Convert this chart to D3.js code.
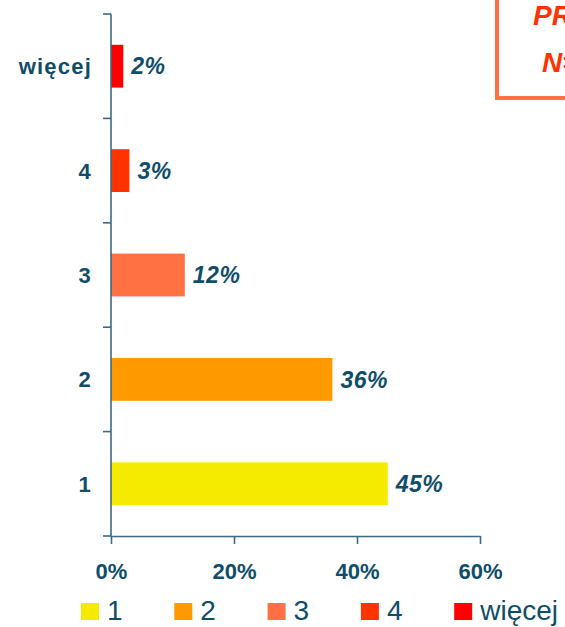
<!DOCTYPE html>
<html>
<head>
<meta charset="utf-8">
<script src="https://cdn.jsdelivr.net/npm/d3@7"></script>
<style>
  body { margin: 0; background: #fff; overflow: hidden; }
  svg { display: block; font-family: "Liberation Sans", Arial, sans-serif; }
</style>
</head>
<body>
<div id="chart"></div>
<script>
// categories top to bottom, as drawn
var categories = ['więcej', '4', '3', '2', '1'];
var values = [0.02, 0.03, 0.12, 0.36, 0.45];
var xTicks = [0, 0.2, 0.4, 0.6];
var legendItems = ['1', '2', '3', '4', 'więcej'];
var boxLines = ['PRÓBA', 'N='];

var width = 565,
    height = 627,
    plotLeft = 111,
    plotRight = 480,
    plotTop = 14,
    plotBottom = 536;

var textColor = '#0f4d69',
    axisColor = '#3b6a82';

var colors = d3.scaleOrdinal()
    .domain(['1', '2', '3', '4', 'więcej'])
    .range(['#f5eb00', '#ff9900', '#ff7043', '#ff3300', '#ff0000']);

var x = d3.scaleLinear()
    .domain([0, 0.6])
    .range([plotLeft, plotRight]);

// bar positions
var y = d3.scaleBand()
    .domain(categories)
    .range([plotTop, plotBottom])
    .paddingInner(0.59)
    .paddingOuter(0.295);

// whole slots, for the tick marks between categories
var slot = d3.scaleBand()
    .domain(categories)
    .range([plotTop, plotBottom]);

var svg = d3.select('#chart').append('svg')
    .attr('width', width)
    .attr('height', height);

// sample box, top right (runs off the page)
svg.append('rect')
    .attr('x', 497)
    .attr('y', -20)
    .attr('width', 120)
    .attr('height', 118)
    .attr('fill', 'none')
    .attr('stroke', '#ff6f3f')
    .attr('stroke-width', 4);

svg.selectAll('.boxtext').data(boxLines)
  .enter().append('text')
    .attr('class', 'boxtext')
    .attr('x', function (d, i) { return i == 0 ? 533 : 542; })
    .attr('y', function (d, i) { return 25 + i * 47; })
    .attr('fill', '#ff3300')
    .style('font-size', '28px')
    .style('font-weight', 'bold')
    .style('font-style', 'italic')
    .text(function (d) { return d; });

// bars
svg.selectAll('.bar').data(categories)
  .enter().append('rect')
    .attr('class', 'bar')
    .attr('x', x(0))
    .attr('y', function (d) { return y(d); })
    .attr('width', function (d, i) { return x(values[i]) - x(0); })
    .attr('height', y.bandwidth())
    .attr('fill', function (d) { return colors(d); });

// value labels
svg.selectAll('.val').data(categories)
  .enter().append('text')
    .attr('class', 'val')
    .attr('x', function (d, i) { return x(values[i]) + 8; })
    .attr('y', function (d) { return y(d) + y.bandwidth() / 2; })
    .attr('dy', '0.36em')
    .attr('fill', textColor)
    .style('font-size', '23px')
    .style('font-weight', 'bold')
    .style('font-style', 'italic')
    .style('letter-spacing', '0.5px')
    .text(function (d, i) { return d3.format('.0%')(values[i]); });

// category labels
svg.selectAll('.cat').data(categories)
  .enter().append('text')
    .attr('class', 'cat')
    .attr('x', 92)
    .attr('y', function (d) { return y(d) + y.bandwidth() / 2; })
    .attr('dy', '0.36em')
    .attr('text-anchor', 'end')
    .attr('fill', textColor)
    .style('font-size', '22px')
    .style('font-weight', 'bold')
    .style('letter-spacing', '1.2px')
    .text(function (d) { return d; });

// y axis line and tick marks between slots
svg.append('line')
    .attr('x1', plotLeft).attr('x2', plotLeft)
    .attr('y1', plotTop).attr('y2', plotBottom)
    .attr('stroke', axisColor)
    .attr('stroke-width', 1.6);

var bounds = categories.map(function (d) { return slot(d); }).concat([plotBottom]);
svg.selectAll('.ytick').data(bounds)
  .enter().append('line')
    .attr('class', 'ytick')
    .attr('x1', plotLeft - 8).attr('x2', plotLeft)
    .attr('y1', function (d) { return d; })
    .attr('y2', function (d) { return d; })
    .attr('stroke', axisColor)
    .attr('stroke-width', 1.6);

// x axis
var xAxis = svg.append('g')
    .attr('transform', 'translate(0,' + plotBottom + ')')
    .call(d3.axisBottom(x)
        .tickValues(xTicks)
        .tickFormat(d3.format('.0%'))
        .tickSizeInner(8)
        .tickSizeOuter(0)
        .tickPadding(19.5));

xAxis.select('.domain').attr('stroke', axisColor).attr('stroke-width', 1.6);
xAxis.selectAll('.tick line').attr('stroke', axisColor).attr('stroke-width', 1.6);
xAxis.selectAll('.tick text')
    .attr('fill', textColor)
    .style('font-family', '"Liberation Sans", Arial, sans-serif')
    .style('font-size', '22px')
    .style('font-weight', 'bold');

// legend
var legend = svg.selectAll('.leg').data(legendItems)
  .enter().append('g')
    .attr('class', 'leg')
    .attr('transform', function (d, i) { return 'translate(' + (81 + i * 93.3) + ',603)'; });

legend.append('rect')
    .attr('width', 18)
    .attr('height', 17)
    .attr('fill', function (d) { return colors(d); });

legend.append('text')
    .attr('x', 26)
    .attr('y', 17)
    .attr('fill', textColor)
    .style('font-size', '28px')
    .text(function (d) { return d; });
</script>
</body>
</html>
